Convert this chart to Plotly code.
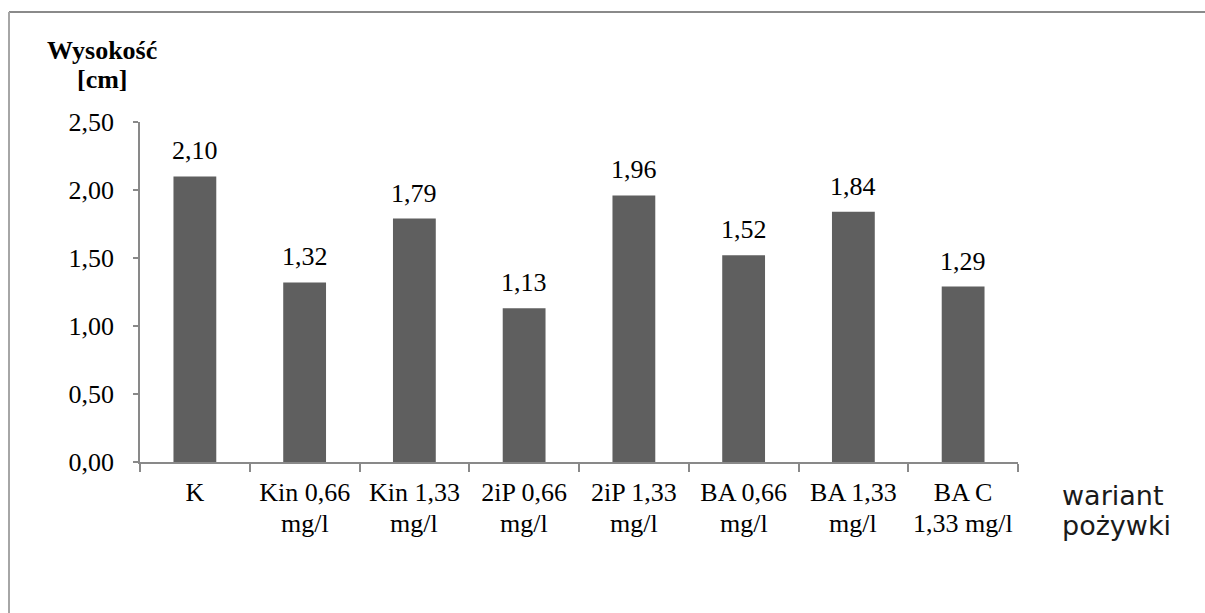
import plotly.graph_objects as go

cat_line1 = ["K", "Kin 0,66", "Kin 1,33", "2iP 0,66", "2iP 1,33", "BA 0,66", "BA 1,33", "BA C"]
cat_line2 = ["", "mg/l", "mg/l", "mg/l", "mg/l", "mg/l", "mg/l", "1,33 mg/l"]
categories = [f"{a} {b}".strip() for a, b in zip(cat_line1, cat_line2)]
values = [2.10, 1.32, 1.79, 1.13, 1.96, 1.52, 1.84, 1.29]
y_ticks = [0, 0.5, 1.0, 1.5, 2.0, 2.5]

SERIF = "Liberation Serif, Times New Roman, serif"
FS = 26
AX = "#898989"

fig = go.Figure()
fig.add_trace(go.Bar(x=categories, y=values, marker_color="#5f5f5f", width=0.39,
                     marker_line_width=0, hoverinfo="skip"))

# data labels
for c, v in zip(categories, values):
    fig.add_annotation(x=c, y=v, text=f"{v:.2f}".replace(".", ","), showarrow=False,
                       yanchor="bottom", yshift=9,
                       font=dict(family=SERIF, size=FS, color="#000"))

# second line of category labels
for c, l2 in zip(categories, cat_line2):
    if l2:
        fig.add_annotation(x=c, y=0, text=l2, showarrow=False, yanchor="middle",
                           yshift=-61, font=dict(family=SERIF, size=FS, color="#000"))

fig.update_layout(
    width=1205, height=613,
    margin=dict(l=140, r=187, t=122, b=151),
    paper_bgcolor="white", plot_bgcolor="white",
    separators=", ",
    showlegend=False,
    font=dict(family=SERIF, size=FS, color="#000"),
)
fig.update_yaxes(range=[0, 2.5], tickvals=y_ticks, tickformat=".2f",
                 showgrid=False, zeroline=False, showline=True, linecolor=AX, linewidth=1.5,
                 ticks="outside", ticklen=5, tickcolor=AX, tickwidth=1.5,
                 ticklabelstandoff=14, tickfont=dict(family=SERIF, size=FS, color="#000"))
fig.update_xaxes(tickvals=categories, ticktext=cat_line1,
                 showgrid=False, showline=True, linecolor=AX, linewidth=1.5,
                 ticks="outside", ticklen=8, tickcolor=AX, tickwidth=1.5,
                 tickson="boundaries", ticklabelstandoff=6,
                 tickfont=dict(family=SERIF, size=FS, color="#000"))

# y-axis title (two lines)
fig.add_annotation(xref="paper", yref="paper", x=(102 - 140) / (1205 - 140 - 187), y=1.0,
                   yshift=122 - 50, text="<b>Wysokość</b>", showarrow=False,
                   xanchor="center", yanchor="middle",
                   font=dict(family=SERIF, size=FS, color="#000"))
fig.add_annotation(xref="paper", yref="paper", x=(102 - 140) / (1205 - 140 - 187), y=1.0,
                   yshift=122 - 79, text="<b>[cm]</b>", showarrow=False,
                   xanchor="center", yanchor="middle",
                   font=dict(family=SERIF, size=FS, color="#000"))

# x-axis title (two lines)
SANS = "DejaVu Sans, Verdana, sans-serif"
fig.add_annotation(xref="paper", yref="paper", x=1.0, xshift=42, y=0, yshift=-33,
                   text="wariant", showarrow=False, xanchor="left", yanchor="middle",
                   font=dict(family=SANS, size=27, color="#1a1a1a"))
fig.add_annotation(xref="paper", yref="paper", x=1.0, xshift=42, y=0, yshift=-63,
                   text="pożywki", showarrow=False, xanchor="left", yanchor="middle",
                   font=dict(family=SANS, size=27, color="#1a1a1a"))

# chart-area border (top and left edges visible)
plot_w = 1205 - 140 - 187
plot_h = 613 - 122 - 151
bx = (9 - 140) / plot_w
fig.add_shape(type="line", xref="paper", yref="paper",
              x0=bx, x1=(1210 - 140) / plot_w, y0=(462 - 12) / plot_h, y1=(462 - 12) / plot_h,
              line=dict(color="#8a8a8a", width=2))
fig.add_shape(type="line", xref="paper", yref="paper",
              x0=bx, x1=bx, y0=(462 - 620) / plot_h, y1=(462 - 12) / plot_h,
              line=dict(color="#a6a6a6", width=2))

fig.write_html("out.html")
